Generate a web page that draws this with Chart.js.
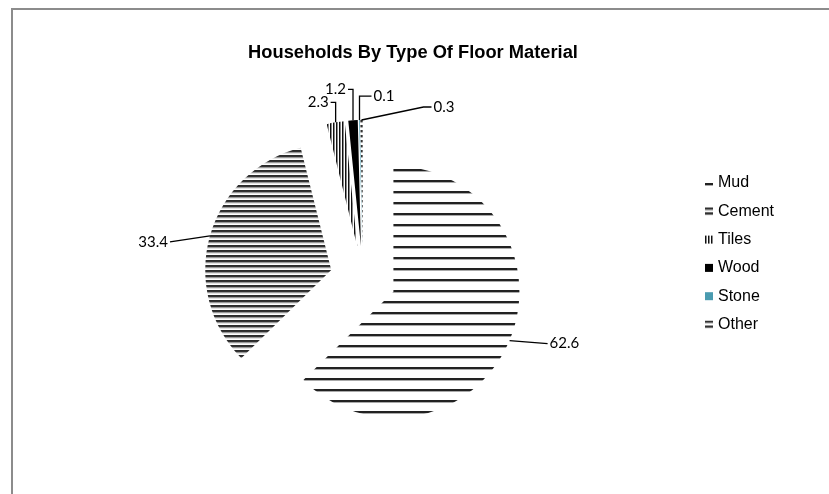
<!DOCTYPE html>
<html>
<head>
<meta charset="utf-8">
<script src="https://cdn.jsdelivr.net/npm/chart.js@4"></script>
<style>
html, body { margin: 0; padding: 0; background: #fff; }
</style>
</head>
<body>
<canvas id="myChart" width="829" height="494"></canvas>
<script>
const categories = ['Mud', 'Cement', 'Tiles', 'Wood', 'Stone', 'Other']
const values = [62.6, 33.4, 2.3, 1.2, 0.1, 0.3]
const valueLabels = ['62.6', '33.4', '2.3', '1.2', '0.1', '0.3']
const chartTitle = 'Households By Type Of Floor Material'

const canvas = document.getElementById('myChart')
const ctx = canvas.getContext('2d')

// small tile -> repeating pattern
function makePattern(w, h, rows) {
    const c = document.createElement('canvas')
    c.width = w
    c.height = h
    const p = c.getContext('2d')
    p.fillStyle = '#fff'
    p.fillRect(0, 0, w, h)
    rows(p)
    return ctx.createPattern(c, 'repeat')
}
const hLines = (h, lines) => makePattern(4, h, (p) => {
    lines.forEach(([y, col]) => { p.fillStyle = col; p.fillRect(0, y, 4, 1) })
})
const vLines = (w, lines) => makePattern(w, 4, (p) => {
    lines.forEach(([x, col]) => { p.fillStyle = col; p.fillRect(x, 0, 1, 4) })
})

const fills = [
    hLines(11, [[4, '#222'], [5, '#222'], [6, '#aaa']]),
    hLines(5, [[0, '#2a2a2a'], [1, '#333'], [2, '#999'], [3, '#e2e2e2']]),
    vLines(3, [[0, '#111'], [1, '#888']]),
    '#000',
    '#4a9bb0',
    hLines(5, [[0, '#333'], [1, '#333'], [2, '#aaa']]),
]

const pieRadius = 126
const explode = 33

// leader line points relative to the slice's outer edge, and text side
const leaders = [
    { pts: [[38, 3]], align: 'left' },
    { pts: [[-40, 6]], align: 'right' },
    { pts: [[0, -20], [-5, -20]], align: 'right' },
    { pts: [[0, -31], [-5, -31]], align: 'right' },
    { pts: [[0, -24], [12, -24]], align: 'left' },
    { pts: [[62, -13], [70, -13]], align: 'left' },
]

const extras = {
    id: 'extras',
    afterDatasetUpdate(chart, args) {
        // exploded pie: move every slice out along its middle angle
        args.meta.data.forEach((arc) => {
            const mid = (arc.startAngle + arc.endAngle) / 2
            arc.x += Math.cos(mid) * explode
            arc.y += Math.sin(mid) * explode
        })
    },
    beforeDraw(chart) {
        const c = chart.ctx
        c.save()
        c.strokeStyle = '#8c8c8c'
        c.lineWidth = 2
        c.strokeRect(12, 9, 900, 600)
        c.fillStyle = '#000'
        c.font = 'bold 18.3px "Liberation Sans", Arial, sans-serif'
        c.textAlign = 'center'
        c.textBaseline = 'middle'
        c.fillText(chartTitle, 413, 53)
        c.restore()
    },
    afterDatasetsDraw(chart) {
        const c = chart.ctx
        const meta = chart.getDatasetMeta(0)
        c.save()
        c.strokeStyle = '#000'
        c.lineWidth = 1.3
        c.fillStyle = '#000'
        c.font = '15px Lato, "Open Sans", sans-serif'
        c.textBaseline = 'middle'
        meta.data.forEach((arc, i) => {
            const mid = (arc.startAngle + arc.endAngle) / 2
            const ax = arc.x + Math.cos(mid) * arc.outerRadius
            const ay = arc.y + Math.sin(mid) * arc.outerRadius
            const L = leaders[i]
            c.beginPath()
            c.moveTo(ax, ay)
            L.pts.forEach(([dx, dy]) => c.lineTo(ax + dx, ay + dy))
            c.stroke()
            const [ex, ey] = L.pts[L.pts.length - 1]
            c.textAlign = L.align
            c.fillText(valueLabels[i], ax + ex + (L.align === 'left' ? 2 : -2), ay + ey)
        })
        c.restore()

        // legend
        c.save()
        c.font = '16px "Liberation Sans", Arial, sans-serif'
        c.textBaseline = 'middle'
        c.textAlign = 'left'
        categories.forEach((name, i) => {
            const y = 183 + i * 28.3
            c.save()
            c.translate(705, y - 4)
            c.fillStyle = fills[i]
            c.fillRect(0, 0, 8, 8)
            c.restore()
            c.fillStyle = '#000'
            c.fillText(name, 718, y)
        })
        c.restore()
    }
}

const data = {
    labels: categories,
    datasets: [
        {
            data: values,
            backgroundColor: fills,
            borderWidth: 0,
            radius: pieRadius,
        }
    ],
}

const config = {
    type: 'pie',
    data: data,
    options: {
        responsive: false,
        animation: false,
        events: [],
        layout: {
            padding: { left: 200, right: 303, top: 130, bottom: 66 },
        },
        plugins: {
            legend: { display: false },
            title: { display: false },
            tooltip: { enabled: false },
        },
    },
    plugins: [extras],
}

const myChart = new Chart(ctx, config)
</script>
</body>
</html>
